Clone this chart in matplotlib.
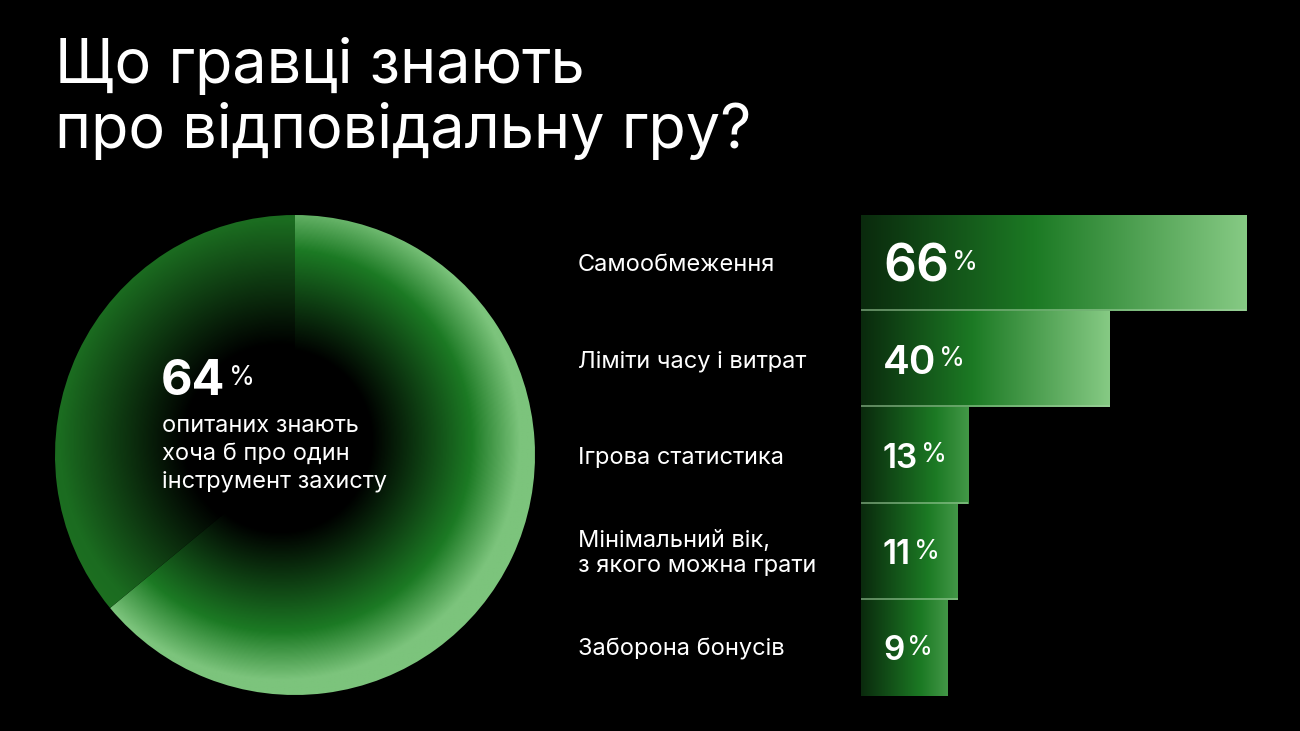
import numpy as np
import matplotlib
matplotlib.use("Agg")
import matplotlib.pyplot as plt
from matplotlib.colors import LinearSegmentedColormap
from matplotlib.transforms import blended_transform_factory, offset_copy

# data
title_lines = ["Що гравці знають", "про відповідальну гру?"]
pie_values = [64, 36]
pie_lines = ["опитаних знають", "хоча б про один", "інструмент захисту"]
categories = ["Самообмеження", "Ліміти часу і витрат", "Ігрова статистика",
              "Мінімальний вік,\nз якого можна грати", "Заборона бонусів"]
values = [66, 40, 13, 11, 9]
num_sizes = [37, 29, 24, 24, 24]

W, H = 1300, 731
plt.rcParams['font.family'] = ['Inter', 'DejaVu Sans']

fig = plt.figure(figsize=(W / 100, H / 100), dpi=100, facecolor='black')


def px(x, y):
    return x / W, 1 - y / H


# title
for i, line in enumerate(title_lines):
    fig.text(*px(55, 83 + i * 65), line, color='white', fontsize=44, va='baseline', ha='left')

# ---- pie ----
axp = fig.add_axes([40 / W, 1 - 710 / H, 510 / W, 510 / H])
axp.set_facecolor('black')

wedges, _ = axp.pie(pie_values, startangle=90, counterclock=False, radius=1,
                    wedgeprops=dict(facecolor='none', linewidth=0))

lim = 1.0625
n = 600
g = np.linspace(-lim, lim, n)
xx, yy = np.meshgrid(g, g)
rr = np.sqrt((xx + 0.06) ** 2 + (yy - 0.06) ** 2)

cm_main = LinearSegmentedColormap.from_list('main', [
    (0.0, '#000000'), (0.38, '#000000'), (0.8, '#1c7a24'), (1.0, '#7cc47c')])
cm_rest = LinearSegmentedColormap.from_list('rest', [
    (0.0, '#000000'), (0.4, '#000000'), (0.92, '#1b6c20'), (1.0, '#1d6f21')])

for w, cm in zip(wedges, [cm_main, cm_rest]):
    im = axp.imshow(np.clip(rr, 0, 1), cmap=cm, vmin=0, vmax=1, origin='lower',
                    extent=(-lim, lim, -lim, lim), interpolation='bilinear')
    im.set_clip_path(w)

axp.set_xlim(-lim, lim)
axp.set_ylim(-lim, lim)
axp.set_aspect('equal')
axp.axis('off')

fig.canvas.draw()
renderer = fig.canvas.get_renderer()

t64 = fig.text(*px(161, 395), str(pie_values[0]), color='white', fontsize=35,
               fontweight='bold', va='baseline', ha='left')
bb = t64.get_window_extent(renderer)
fig.text(bb.x1 / W + 4 / W, 1 - 378 / H, '%', color='white', fontsize=19, va='center', ha='left')
for i, line in enumerate(pie_lines):
    fig.text(*px(162, 432 + i * 27.5), line, color='white', fontsize=17, va='baseline', ha='left')

# ---- bars ----
base = 7.4
unit = 5.25  # px per percent
axb = fig.add_axes([861 / W, 1 - 696 / H, (W - 861) / W, 481 / H])
axb.set_facecolor('none')
axb.set_xlim(-base, (W - 861) / unit - base)
axb.set_ylim(4.5, -0.5)
axb.axis('off')

ypos = np.arange(len(values))
bars = axb.barh(ypos, np.array(values) + base, left=-base, height=1.0,
                color='none', linewidth=0)

cm_bar = LinearSegmentedColormap.from_list('bar', [
    (0.0, '#0a2a0d'), (0.45, '#1c7a24'), (1.0, '#86ca84')])

grad = np.linspace(0, 1, 256).reshape(1, -1)
for i, (b, v) in enumerate(zip(bars, values)):
    span = np.clip(v / 30, 0.65, 1.0)
    x0, w = b.get_x(), b.get_width()
    y0, h = b.get_y(), b.get_height()
    im = axb.imshow(grad * span, cmap=cm_bar, vmin=0, vmax=1, aspect='auto',
                    extent=(x0, x0 + w, y0 + h, y0), interpolation='bilinear')
    im.set_clip_path(b)
    if i < len(values) - 1:
        axb.plot([x0, x0 + w], [y0 + h - 0.01, y0 + h - 0.01], color='#a5d3a3',
                 alpha=0.7, lw=1.1, solid_capstyle='butt')

# category labels
trans = blended_transform_factory(fig.transFigure, axb.transData)
trans_lbl = offset_copy(trans, fig=fig, x=0, y=-1.5, units='points')
for y, cat in zip(ypos, categories):
    axb.text(578 / W, y, cat, transform=trans_lbl, color='white', fontsize=17,
             va='center', ha='left', linespacing=1.2)

# value labels
fig.canvas.draw()
renderer = fig.canvas.get_renderer()
for y, v, fs in zip(ypos, values, num_sizes):
    cap = 0.727 * fs
    t = axb.text(883 / W, y, str(v), color='white', fontsize=fs, fontweight='semibold',
                 va='baseline', ha='left',
                 transform=offset_copy(trans, fig=fig, x=0, y=-cap / 2, units='points'))
    bb = t.get_window_extent(renderer)
    axb.text(bb.x1 / W + 3 / W, y, '%', color='white', fontsize=19, va='center', ha='left',
             transform=trans)

fig.savefig('out.png', dpi=100, facecolor='black')
